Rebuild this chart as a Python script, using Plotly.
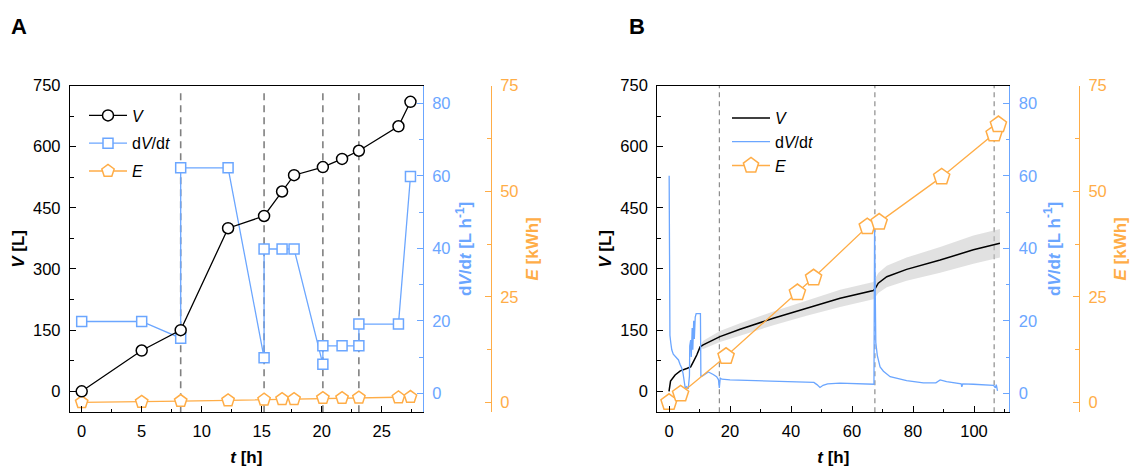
import plotly.graph_objects as go

# ---------------- Panel A data ----------------
tA_V = [0, 5, 8.25, 12.2, 15.2, 16.7, 17.7, 20.1, 21.7, 23.1, 26.4, 27.4]
V_A = [0, 100, 150, 400, 430, 490, 530, 550, 570, 590, 650, 710]
tA_Q = [0, 5, 8.25, 8.25, 12.2, 15.2, 15.2, 16.7, 17.7, 20.1, 20.1, 21.7, 23.1, 23.1, 26.4, 27.4]
Q_A = [19.8, 19.8, 15.2, 62.2, 62.2, 9.8, 39.8, 39.8, 39.8, 8.0, 13.1, 13.1, 13.1, 19.1, 19.1, 59.8]
tA_E = [0, 5, 8.25, 12.2, 15.2, 16.7, 17.7, 20.1, 21.7, 23.1, 26.4, 27.4]
E_A = [0, 0.1, 0.3, 0.45, 0.6, 0.75, 0.75, 1.0, 1.0, 1.1, 1.15, 1.25]
tA_dash = [8.25, 15.2, 20.1, 23.1]

# ---------------- Panel B data ----------------
tB_V = [0, 0.5, 2, 3.7, 5.8, 7.1, 8.0, 9.1, 10.2, 11.2, 16.7, 23.3, 34.2, 45.1, 56.1, 67.0,
        67.6, 68.6, 71.4, 77.9, 88.9, 99.8, 108.5]
V_B = [0, 25, 40, 50, 56, 60, 73, 89, 109, 114, 134, 152, 179, 204, 228, 247,
       252, 265, 281, 299, 322, 347, 363]
tB_band = [10.2, 11.2, 16.7, 23.3, 34.2, 45.1, 56.1, 67.0, 67.6, 68.6, 71.4, 77.9, 88.9, 99.8, 108.5]
V_B_hi = [112, 124, 148, 167, 196, 223, 249, 268, 275, 290, 308, 328, 354, 382, 398]
V_B_lo = [106, 104, 121, 137, 162, 185, 207, 226, 230, 241, 255, 271, 291, 313, 328]
tB_Q = [0.05, 0.15, 0.3, 0.6, 0.9, 1.4, 2.5, 3.1, 3.6, 4.2, 4.6, 5.0, 5.3, 5.8, 6.3, 6.7, 6.8,
        7.1, 7.3, 7.6, 7.8, 8.1, 8.3, 8.6, 8.9, 10.3, 10.45, 11.0, 12.9, 14.5, 15.6, 16.2,
        16.5, 16.8, 17.3, 20, 30, 40, 45.1, 47.5, 48.5, 49.5, 50.5, 52, 56, 62, 67.2, 67.4,
        67.6, 67.8, 68.3, 69.2, 70.3, 72.5, 77.9, 83.4, 87.5, 88.9, 91, 94.3, 95.8, 96.0,
        96.3, 99.8, 104, 106.4, 107.0, 107.3, 107.7]
Q_B = [60, 25, 16, 13.8, 12, 10.8, 9.7, 9.2, 8.0, 6.9, 5.5, 3.0, 1.5, 1.8, 1.2, 4.8, 13,
       14.7, 10, 18, 12, 20, 15, 21, 22, 22, 4.6, 4.8, 5.9, 5.2, 4.6, 3.8,
       1.5, 4.2, 3.9, 3.7, 3.5, 3.2, 3.0, 3.0, 2.4, 1.6, 2.2, 2.6, 2.8, 2.6, 2.5, 46,
       35, 14, 10.4, 7.3, 6.1, 4.6, 3.5, 2.9, 2.9, 3.7, 3.2, 2.9, 2.6, 1.8,
       2.6, 2.5, 2.3, 2.2, 1.5, 2.4, 0.7]
tB_E = [0, 3.8, 18.7, 42.1, 47.4, 65.0, 68.9, 89.4, 106.6, 108.0]
E_B = [0, 2.0, 10.9, 26.0, 29.5, 41.6, 42.7, 53.4, 63.6, 65.8]
tB_dash = [16.5, 67.5, 106.6]

# ---------------- style ----------------
BLUE = '#6BA6FF'
ORANGE = '#FFAD47'
BLACK = '#000000'
GRAY = '#808080'
FONT = 'Liberation Sans, Arial, sans-serif'
W, H = 1131, 467


def px_x(p):
    return p / W


def px_y(p):
    return 1 - p / H


y_dom = [px_y(412.3), px_y(85.5)]
xA_dom = [px_x(70), px_x(422.7)]
xB_dom = [px_x(657.3), px_x(1009.3)]

fig = go.Figure()

# ---- Panel A traces ----
fig.add_trace(go.Scatter(
    x=tA_V, y=V_A, xaxis='x', yaxis='y3', mode='lines+markers', name='<i>V</i>',
    line=dict(color=BLACK, width=1.3),
    marker=dict(symbol='circle', size=11, color='white', line=dict(color=BLACK, width=1.5)),
    legend='legend', legendgroup='aV'))
fig.add_trace(go.Scatter(
    x=tA_Q, y=Q_A, xaxis='x', yaxis='y', mode='lines+markers', name='d<i>V</i>/d<i>t</i>',
    line=dict(color=BLUE, width=1.3),
    marker=dict(symbol='square', size=10, color='white', line=dict(color=BLUE, width=1.5)),
    legend='legend', legendgroup='aQ'))
fig.add_trace(go.Scatter(
    x=tA_E, y=E_A, xaxis='x', yaxis='y2', mode='lines+markers', name='<i>E</i>',
    line=dict(color=ORANGE, width=1.3),
    marker=dict(symbol='pentagon', size=13, color='white', line=dict(color=ORANGE, width=1.5)),
    legend='legend', legendgroup='aE'))

# ---- Panel B traces ----
fig.add_trace(go.Scatter(
    x=tB_band, y=V_B_lo, xaxis='x2', yaxis='y4', mode='lines', line=dict(width=0, color='rgba(0,0,0,0)'),
    showlegend=False, hoverinfo='skip'))
fig.add_trace(go.Scatter(
    x=tB_band, y=V_B_hi, xaxis='x2', yaxis='y4', mode='lines', line=dict(width=0, color='rgba(0,0,0,0)'),
    fill='tonexty', fillcolor='rgba(200,200,200,0.55)', showlegend=False, hoverinfo='skip'))
fig.add_trace(go.Scatter(
    x=tB_V, y=V_B, xaxis='x2', yaxis='y4', mode='lines', name='<i>V</i>',
    line=dict(color=BLACK, width=1.5), legend='legend2'))
fig.add_trace(go.Scatter(
    x=tB_Q, y=Q_B, xaxis='x2', yaxis='y5', mode='lines', name='d<i>V</i>/d<i>t</i>',
    line=dict(color=BLUE, width=1.3), legend='legend2'))
fig.add_trace(go.Scatter(
    x=tB_E, y=E_B, xaxis='x2', yaxis='y6', mode='lines+markers', name='<i>E</i>',
    line=dict(color=ORANGE, width=1.3),
    marker=dict(symbol='pentagon', size=17, color='white', line=dict(color=ORANGE, width=1.5)),
    legend='legend2'))

TICK_SIZE = 16.5


def xaxis_cfg(dom, rng, anchor, dtick, mdtick):
    return dict(domain=dom, range=rng, anchor=anchor, showline=True, linecolor=BLACK, linewidth=1.3,
                mirror=True, ticks='inside', ticklen=6, tickwidth=1.2, tickcolor=BLACK,
                tick0=0, dtick=dtick, showgrid=False, zeroline=False, automargin=False,
                minor=dict(dtick=mdtick, ticks='inside', ticklen=3.5, tickwidth=1.2, tickcolor=BLACK, showgrid=False),
                tickfont=dict(family=FONT, size=TICK_SIZE, color=BLACK), ticklabelstandoff=4,
                title=dict(text='<b><i>t</i> [h]</b>', font=dict(family=FONT, size=17, color=BLACK), standoff=14))


def yaxis_cfg(color, rng, dtick, mdtick, title, side, anchor, standoff, overlaying=None, position=None):
    d = dict(domain=y_dom, range=rng, side=side, anchor=anchor, showline=True, linecolor=color,
             linewidth=1.3, ticks='inside', ticklen=6, tickwidth=1.2, tickcolor=color,
             tick0=0, dtick=dtick, showgrid=False, zeroline=False, automargin=False,
             minor=dict(dtick=mdtick, ticks='inside', ticklen=3.5, tickwidth=1.2, tickcolor=color, showgrid=False),
             tickfont=dict(family=FONT, size=TICK_SIZE, color=color), ticklabelstandoff=5,
             title=dict(text=title, font=dict(family=FONT, size=17, color=color), standoff=standoff))
    if overlaying:
        d['overlaying'] = overlaying
    if position is not None:
        d['position'] = position
    return d


V_title = '<b><i>V</i> [L]</b>'
Q_title = '<b>d<i>V</i>/d<i>t</i> [L h<sup>-1</sup>]</b>'
E_title = '<b><i>E</i> [kWh]</b>'

shapes = []
for t in tA_dash:
    shapes.append(dict(type='line', xref='x', yref='paper', x0=t, x1=t, y0=y_dom[0], y1=px_y(93),
                       line=dict(color=GRAY, width=1.6, dash='7px,5px'), layer='below'))
for t in tB_dash:
    shapes.append(dict(type='line', xref='x2', yref='paper', x0=t, x1=t, y0=y_dom[0], y1=y_dom[1],
                       line=dict(color=GRAY, width=1.1, dash='5px,4px'), layer='below'))

fig.update_layout(
    width=W, height=H, margin=dict(l=0, r=0, t=0, b=0, autoexpand=False),
    paper_bgcolor='white', plot_bgcolor='white',
    font=dict(family=FONT, size=16, color=BLACK),
    xaxis=xaxis_cfg(xA_dom, [-0.975, 28.42], 'y', 5, 2.5),
    yaxis=yaxis_cfg(BLUE, [-5.24, 84.9], 20, 10, Q_title, 'right', 'x', 9),
    yaxis2=yaxis_cfg(ORANGE, [-2.37, 75.05], 25, 12.5, E_title, 'right', 'free', 8,
                     overlaying='y', position=px_x(490.7)),
    yaxis3=yaxis_cfg(BLACK, [-51.5, 750], 150, 75, V_title, 'left', 'x', 4, overlaying='y'),
    xaxis2=xaxis_cfg(xB_dom, [-3.84, 111.57], 'y4', 20, 10),
    yaxis4=yaxis_cfg(BLACK, [-51.5, 750], 150, 75, V_title, 'left', 'x2', 4),
    yaxis5=yaxis_cfg(BLUE, [-5.24, 84.9], 20, 10, Q_title, 'right', 'x2', 11, overlaying='y4'),
    yaxis6=yaxis_cfg(ORANGE, [-2.37, 75.05], 25, 12.5, E_title, 'right', 'free', 8,
                     overlaying='y4', position=px_x(1079)),
    legend=dict(x=px_x(84), y=px_y(98.5), xanchor='left', yanchor='top', bgcolor='rgba(0,0,0,0)',
                font=dict(family=FONT, size=16, color=BLACK), itemwidth=38, tracegroupgap=4,
                traceorder='grouped'),
    legend2=dict(x=px_x(727), y=px_y(101), xanchor='left', yanchor='top', bgcolor='rgba(0,0,0,0)',
                 font=dict(family=FONT, size=16, color=BLACK), itemwidth=38, traceorder='normal'),
    shapes=shapes,
    annotations=[
        dict(text='<b>A</b>', x=px_x(19), y=px_y(27), xref='paper', yref='paper', showarrow=False,
             font=dict(family=FONT, size=22, color=BLACK), xanchor='center', yanchor='middle'),
        dict(text='<b>B</b>', x=px_x(637), y=px_y(27), xref='paper', yref='paper', showarrow=False,
             font=dict(family=FONT, size=22, color=BLACK), xanchor='center', yanchor='middle'),
    ],
)

fig.write_html('out.html', config={'displayModeBar': False},
               post_script="document.body.style.margin='0';document.body.style.overflow='hidden';")
